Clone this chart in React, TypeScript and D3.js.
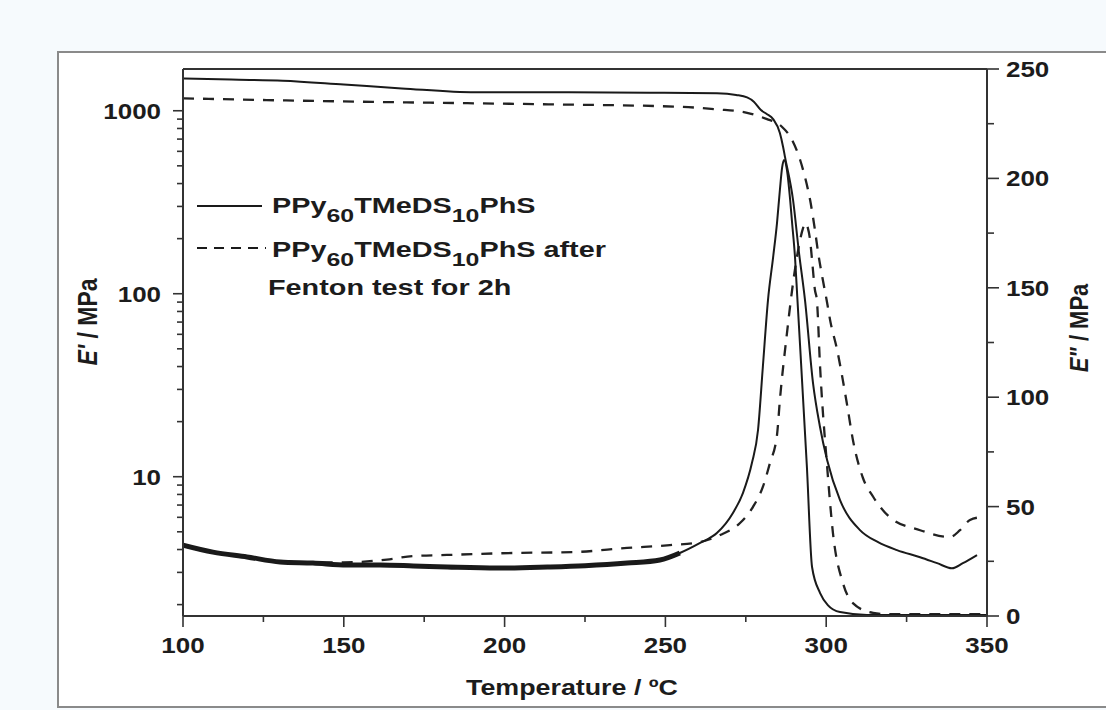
import React, { useEffect, useRef } from "react";
import * as d3 from "d3";

const W = 1106;
const H = 710;

// Axis ticks
const xTicks = [100, 150, 200, 250, 300, 350];
const xMinorTicks = [125, 175, 225, 275, 325];
const leftTicks = [10, 100, 1000];
const rightTicks = [0, 50, 100, 150, 200, 250];
const rightMinorTicks = [25, 75, 125, 175, 225];

// E' (storage modulus, left log axis) - solid: PPy60TMeDS10PhS
const storageSolidT = [100, 115, 131, 150, 168, 191, 220, 245, 266, 272, 275.4, 277.5, 279.7, 281.5, 283.5, 285.6, 286.6, 287.2, 289.7, 291.5, 293.4, 295.9, 298, 300.3, 304.3, 310.5, 316, 322, 329.2, 334.5, 339.1, 342.5, 346.9];
const storageSolidV = [1503, 1480, 1459, 1390, 1325, 1261, 1261, 1255, 1245, 1220, 1183, 1120, 1009, 960, 900, 755, 634, 558, 325, 170, 92.5, 32.5, 19, 12.3, 7.45, 5.11, 4.4, 3.97, 3.63, 3.37, 3.16, 3.37, 3.73];

// E' dashed: after Fenton test
const storageDashT = [100, 130, 168, 214, 254.5, 266, 275.4, 281.6, 284.7, 286.3, 289.4, 291.9, 293.4, 295, 296.5, 297.5, 298.8, 300.3, 301.2, 303.4, 306.5, 308.3, 311.4, 314.6, 319.8, 329.2, 338.5, 341.6, 344.7, 347.8];
const storageDashV = [1169, 1140, 1112, 1084, 1051, 1018, 975, 900, 857, 815, 692, 538, 434, 325, 223, 167, 123, 89, 72, 49.3, 24.7, 15.9, 9.87, 7.77, 6.0, 5.1, 4.68, 5.1, 5.8, 6.0];

// E'' (loss modulus, right linear axis) - solid
const lossSolidT = [100, 109.3, 119.9, 130.2, 140.4, 151, 161.3, 171.6, 182.2, 197.7, 213.3, 225, 238.1, 248.3, 254.5, 260.8, 266, 271, 274.1, 276.9, 278.8, 280.3, 281.9, 283.5, 284.7, 285.6, 286.3, 286.9, 287.8, 288.8, 289.4, 290.3, 291, 294, 295.6, 298.1, 300.5, 304.3, 312.7, 350];
const lossSolidV = [32.4, 29.2, 27.0, 24.7, 24.2, 23.3, 23.3, 22.9, 22.4, 21.9, 22.4, 23.0, 24.2, 25.6, 28.8, 33.4, 37.9, 47.1, 56.2, 69.9, 85.0, 113.8, 144.4, 164, 179.6, 194.7, 205, 208.4, 203.8, 190, 179.6, 164, 146, 68.1, 22.4, 10.5, 5, 1.8, 0.5, 0.5];

// E'' dashed
const lossDashT = [100, 110, 120, 130, 140, 150, 163.4, 171.5, 182.1, 202.6, 221.3, 238.1, 251.4, 260.8, 267, 273.2, 277.2, 280.3, 282.5, 284.7, 285.6, 287.8, 289.4, 291, 292.8, 293.4, 294.3, 295, 295.6, 296.5, 297.1, 298.1, 300.3, 302.1, 305.2, 308.3, 314.6, 320, 350];
const lossDashV = [32, 29, 27, 25, 24.5, 24.5, 25.8, 27.4, 27.9, 28.8, 29.2, 31.1, 32.4, 33.8, 37, 42.5, 49.8, 59, 69.9, 82.7, 98.7, 129.3, 149, 165, 177.3, 179.6, 177.3, 171.8, 162.7, 149, 144.4, 113.8, 68.1, 37.9, 15.1, 5.9, 1.4, 0.8, 0.8];

const FONT = "'Liberation Sans', Arial, Helvetica, sans-serif";
const INK = "#1c1c1c";

export default function App() {
  const ref = useRef<SVGSVGElement>(null);

  useEffect(() => {
    const svg = d3.select(ref.current);
    svg.selectAll("*").remove();

    const x = d3.scaleLinear().domain([100, 350]).range([183, 987]);
    const yL = d3.scaleLog().domain([1.733, 1691]).range([616, 69]);
    const yR = d3.scaleLinear().domain([0, 250]).range([616, 69]);

    // background
    svg.append("rect").attr("x", 0).attr("y", 0).attr("width", W).attr("height", H).attr("fill", "#f6fafd");
    svg.append("rect").attr("x", 58).attr("y", 52).attr("width", W).attr("height", 655)
      .attr("fill", "#ffffff").attr("stroke", "#8a8a8a").attr("stroke-width", 2);

    svg.append("defs").append("clipPath").attr("id", "plotclip")
      .append("rect").attr("x", 183).attr("y", 69).attr("width", 804).attr("height", 547);

    const plot = svg.append("g").attr("clip-path", "url(#plotclip)");

    const zip = (t: number[], v: number[]) => t.map((tt, i) => [tt, v[i]] as [number, number]);

    const lineL = d3.line<[number, number]>().x(d => x(d[0])).y(d => yL(d[1])).curve(d3.curveMonotoneX);
    const lineR = d3.line<[number, number]>().x(d => x(d[0])).y(d => yR(d[1])).curve(d3.curveMonotoneX);

    const lossSolid = zip(lossSolidT, lossSolidV);
    const lossDash = zip(lossDashT, lossDashV);
    const storSolid = zip(storageSolidT, storageSolidV);
    const storDash = zip(storageDashT, storageDashV);

    // dashed lines
    plot.append("path").attr("d", lineR(lossDash)!).attr("fill", "none").attr("stroke", "#222")
      .attr("stroke-width", 2.3).attr("stroke-dasharray", "11,9");
    plot.append("path").attr("d", lineL(storDash)!).attr("fill", "none").attr("stroke", "#222")
      .attr("stroke-width", 2.3).attr("stroke-dasharray", "11,9");

    // solid lines
    plot.append("path").attr("d", lineR(lossSolid.filter(d => d[0] <= 256))!).attr("fill", "none")
      .attr("stroke", "#1a1a1a").attr("stroke-width", 5).attr("stroke-linejoin", "round");
    plot.append("path").attr("d", lineR(lossSolid)!).attr("fill", "none").attr("stroke", "#1a1a1a")
      .attr("stroke-width", 2);
    plot.append("path").attr("d", lineL(storSolid)!).attr("fill", "none").attr("stroke", "#1a1a1a")
      .attr("stroke-width", 2);

    // frame
    const frame = svg.append("g").attr("stroke", "#333").attr("stroke-width", 2).attr("fill", "none");
    frame.append("line").attr("x1", 183).attr("x2", 987).attr("y1", 69).attr("y2", 69);
    frame.append("line").attr("x1", 183).attr("x2", 987).attr("y1", 616).attr("y2", 616);
    frame.append("line").attr("x1", 183).attr("x2", 183).attr("y1", 69).attr("y2", 616);
    frame.append("line").attr("x1", 987).attr("x2", 987).attr("y1", 69).attr("y2", 616);

    const ticks = svg.append("g").attr("stroke", "#333").attr("stroke-width", 1.6);
    xTicks.forEach(t => ticks.append("line").attr("x1", x(t)).attr("x2", x(t)).attr("y1", 616).attr("y2", 627));
    xMinorTicks.forEach(t => ticks.append("line").attr("x1", x(t)).attr("x2", x(t)).attr("y1", 616).attr("y2", 622));
    leftTicks.forEach(t => ticks.append("line").attr("x1", 173).attr("x2", 183).attr("y1", yL(t)).attr("y2", yL(t)));
    const [lo, hi] = yL.domain();
    [1, 10, 100, 1000].forEach(dec => {
      for (let m = 2; m <= 9; m++) {
        const v = m * dec;
        if (v > lo && v < hi) ticks.append("line").attr("x1", 177).attr("x2", 183).attr("y1", yL(v)).attr("y2", yL(v));
      }
    });
    rightTicks.forEach(t => ticks.append("line").attr("x1", 987).attr("x2", 999).attr("y1", yR(t)).attr("y2", yR(t)));
    rightMinorTicks.forEach(t => ticks.append("line").attr("x1", 987).attr("x2", 994).attr("y1", yR(t)).attr("y2", yR(t)));

    const txt = (px: number, py: number, s: string, anchor: string, size: number, sx: number) =>
      svg.append("text").attr("transform", `translate(${px},${py}) scale(${sx},1)`)
        .attr("text-anchor", anchor).attr("font-family", FONT).attr("font-weight", "bold")
        .attr("font-size", size).attr("fill", INK).text(s);

    xTicks.forEach(t => txt(x(t), 653, String(t), "middle", 22, 1.18));
    leftTicks.forEach(t => txt(161, yL(t) + 8, String(t), "end", 22, 1.18));
    rightTicks.forEach(t => txt(1006, yR(t) + 8, String(t), "start", 22, 1.18));

    txt(572, 695, "Temperature / ºC", "middle", 22, 1.22);

    // left axis title
    const lt = svg.append("text").attr("transform", "translate(97,322) rotate(-90) scale(1,1.2)")
      .attr("text-anchor", "middle").attr("font-family", FONT).attr("font-weight", "bold")
      .attr("font-size", 23).attr("fill", INK);
    lt.append("tspan").attr("font-style", "italic").text("E'");
    lt.append("tspan").text(" / MPa");

    const rt = svg.append("text").attr("transform", "translate(1088,328) rotate(-90) scale(1,1.2)")
      .attr("text-anchor", "middle").attr("font-family", FONT).attr("font-weight", "bold")
      .attr("font-size", 22).attr("fill", INK);
    rt.append("tspan").attr("font-style", "italic").text("E\"");
    rt.append("tspan").text(" / MPa");

    // legend
    const lg = svg.append("g");
    lg.append("line").attr("x1", 197).attr("x2", 262).attr("y1", 206).attr("y2", 206)
      .attr("stroke", "#1a1a1a").attr("stroke-width", 2);
    lg.append("line").attr("x1", 197).attr("x2", 266).attr("y1", 248).attr("y2", 248)
      .attr("stroke", "#1a1a1a").attr("stroke-width", 2).attr("stroke-dasharray", "10,7");

    const legendLine = (py: number, after: boolean) => {
      const t = lg.append("text").attr("transform", `translate(272,${py}) scale(1.31,1)`)
        .attr("font-family", FONT).attr("font-weight", "bold").attr("font-size", 22).attr("fill", INK);
      t.append("tspan").text("PPy");
      t.append("tspan").attr("font-size", 19).attr("dy", 9).text("60");
      t.append("tspan").attr("dy", -9).text("TMeDS");
      t.append("tspan").attr("font-size", 19).attr("dy", 9).text("10");
      t.append("tspan").attr("dy", -9).text(after ? "PhS after" : "PhS");
    };
    legendLine(213, false);
    legendLine(257, true);
    txt(268, 295, "Fenton test for 2h", "start", 22, 1.31);
  }, []);

  return (
    <svg ref={ref} width={W} height={H}
      style={{ position: "absolute", left: 0, top: 0, display: "block" }} />
  );
}
